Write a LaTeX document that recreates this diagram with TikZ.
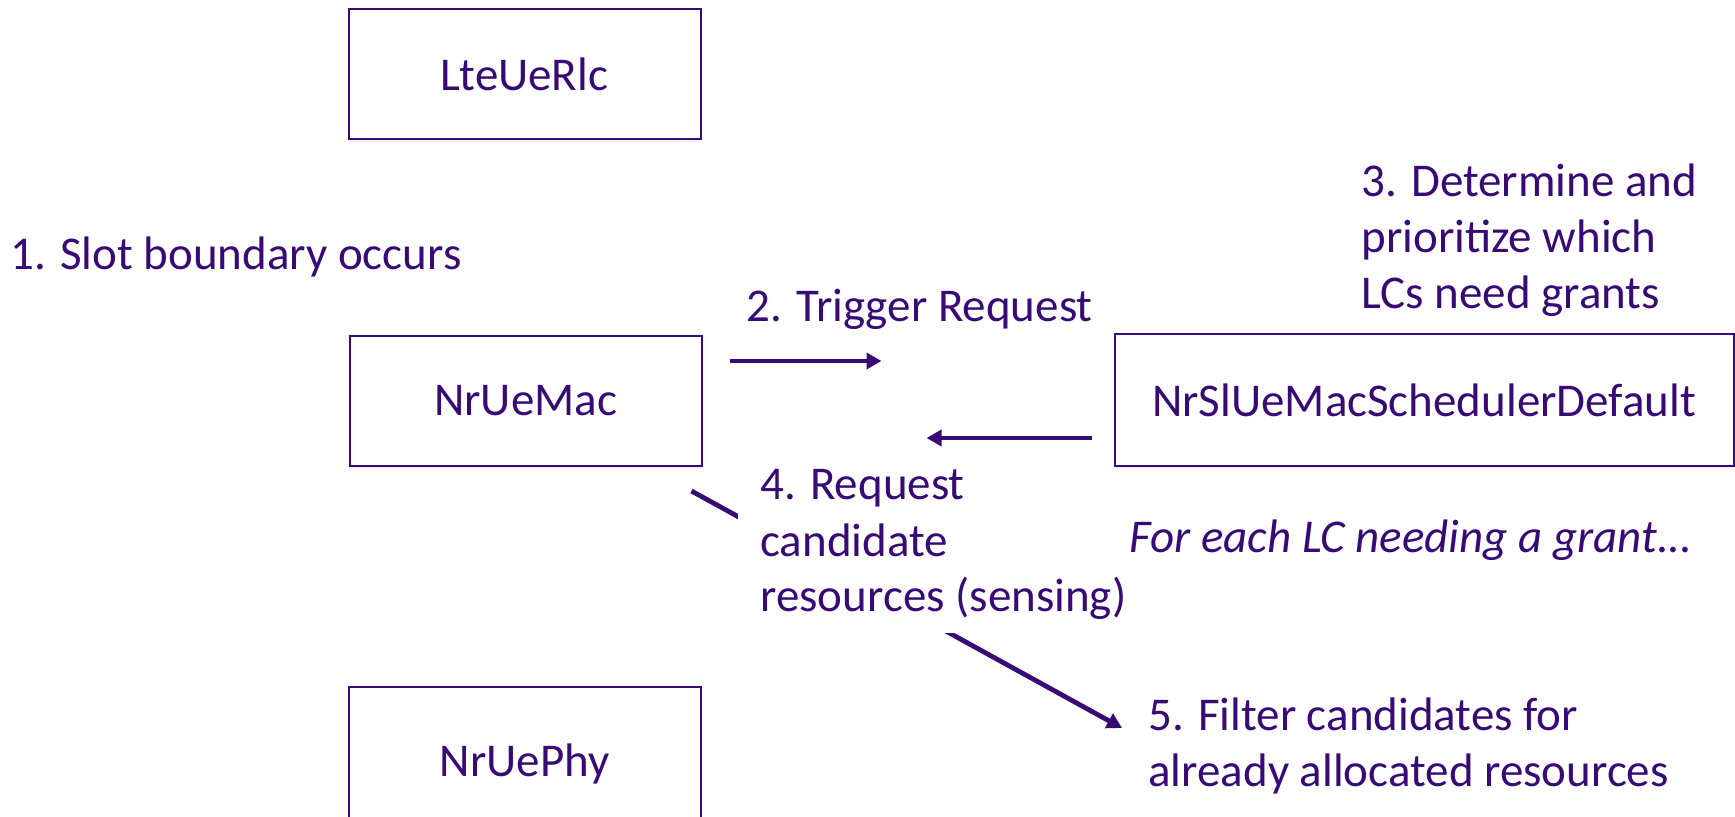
\documentclass[tikz,border=0pt]{standalone}
\usepackage{fontspec}
\setmainfont{Carlito}
\usetikzlibrary{arrows.meta,calc,shadows}
\definecolor{slpurple}{RGB}{56,10,118}
\tikzset{
  txt/.style={text=slpurple, font=\fontsize{23.5}{28}\selectfont},
  block/.style={txt, draw=slpurple, line width=1pt, fill=white,
    minimum width=176pt, minimum height=65pt,
    drop shadow={opacity=0.12, shadow xshift=0.8pt, shadow yshift=-1.5pt}},
  note/.style={txt, inner sep=0pt, align=left},
  flow/.style={draw=slpurple, line width=2.4pt, -{Triangle[length=7.5pt,width=8pt]}},
}
\begin{document}
\begin{tikzpicture}[x=0.5pt,y=-0.5pt]
  \useasboundingbox (0,0) rectangle (1735,817);
  % classes
  \node[block] (rlc) at (524.5,74.5) {LteUeRlc};
  \node[block] (mac) at (525.5,401) {NrUeMac};
  \node[block, minimum height=76.5pt] (phy) at (524.5,763.5) {NrUePhy};
  \node[block, minimum width=309.5pt, minimum height=66pt] (sched) at (1424,400) {NrSlUeMacSchedulerDefault};
  % steps (base = last line)
  \node[note, anchor=base west] (slot) at (10,270) {1. Slot boundary occurs};
  \node[note, anchor=base west] (trig) at (746,322) {2. Trigger Request};
  \node[note, anchor=base west] (prio) at (1361,309) {3. Determine and\\prioritize which\\LCs need grants};
  \node[note, anchor=base west] (each) at (1129,553) {\itshape For each LC needing a grant...};
  \node[note, anchor=base west] (filter) at (1148,786) {5. Filter candidates for\\already allocated resources};
  \draw[flow] ($(mac.east)+(27,-40)$) -- ($(sched.west)+(-232,-39)$);
  \draw[flow] ($(sched.west)+(-22,38)$) -- ($(mac.east)+(224,37)$);
  \draw[flow] ($(mac.south east)+(-11,24)$) -- ($(filter.base west)+(-26,-58)$);
  % label sits on top of the last arrow
  \node[txt, fill=white, inner xsep=2pt, inner ysep=2pt, anchor=base west] (req) at (738,612)
    {\begin{tabular}[b]{@{\hspace{9pt}}l@{\hspace{-25pt}}}4. Request\\candidate\\resources (sensing)\end{tabular}};
\end{tikzpicture}
\end{document}
